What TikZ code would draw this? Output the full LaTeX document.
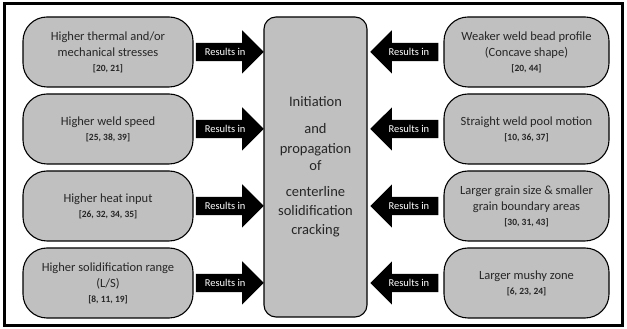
\documentclass[tikz,border=0pt]{standalone}
\usepackage{fontspec}
\setmainfont{Carlito}
\usetikzlibrary{shapes.arrows,positioning}
\definecolor{boxgray}{RGB}{192,192,192}
\definecolor{txtgray}{RGB}{38,38,38}
\newcommand{\rif}[1]{\\[-1pt]{\fontsize{9.5}{11}\selectfont\bfseries #1}}

\begin{document}
\begin{tikzpicture}
        [x=1pt,y=1pt,
         causa/.style={draw, line width=1.1pt, fill=boxgray, rounded corners=24pt,
                       minimum height=70pt, align=center, text=txtgray, inner sep=2pt,
                       font=\fontsize{12.5}{16}\selectfont},
         freccia/.style={single arrow, fill=black, text=white, anchor=tail,
                         minimum height=68pt, minimum width=43pt,
                         single arrow head extend=12.5pt, text height=7.5pt, text depth=0pt,
                         inner ysep=5.25pt, inner xsep=1pt, font=\fontsize{10.5}{10.5}\selectfont}]
        \useasboundingbox (0,0) rectangle (627,329);
        %cornice esterna
            \draw[line width=3pt] (4,3) rectangle (622,325);
            %blocco centrale
            \node[causa, minimum width=103pt, minimum height=300pt, rounded corners=12pt,
                  font=\fontsize{14.5}{19}\selectfont] (crack) at (315.5,162)
                 {Initiation\\[8pt]and\\[1pt]propagation\\[-2pt]of\\[7pt]centerline\\solidification\\cracking};
            %cause a sinistra
            \node[causa, minimum width=170pt] (l1) at (108,277) {Higher thermal and/or\\mechanical stresses\rif{[20, 21]}};
            \node[causa, minimum width=170pt] (l2) at (108,200) {Higher weld speed\rif{[25, 38, 39]}};
            \node[causa, minimum width=170pt] (l3) at (108,123) {Higher heat input\rif{[26, 32, 34, 35]}};
            \node[causa, minimum width=170pt] (l4) at (108,46) {Higher solidification range\\(L/S)\rif{[8, 11, 19]}};
            %cause a destra
            \node[causa, minimum width=165pt] (r1) at (526.5,277) {Weaker weld bead profile\\(Concave shape)\rif{[20, 44]}};
            \node[causa, minimum width=165pt] (r2) at (526.5,200) {Straight weld pool motion\rif{[10, 36, 37]}};
            \node[causa, minimum width=165pt] (r3) at (526.5,123) {Larger grain size \& smaller\\grain boundary areas\rif{[30, 31, 43]}};
            \node[causa, minimum width=165pt] (r4) at (526.5,46) {Larger mushy zone\rif{[6, 23, 24]}};
            %frecce
            \node[freccia] (a1) at ([xshift=2pt]l1.east) {Results in};
            \node[freccia] (a2) at ([xshift=2pt]l2.east) {Results in};
            \node[freccia] (a3) at ([xshift=2pt]l3.east) {Results in};
            \node[freccia] (a4) at ([xshift=2pt]l4.east) {Results in};
            \node[freccia, shape border rotate=180] (b1) at ([xshift=-5pt]r1.west) {Results in};
            \node[freccia, shape border rotate=180] (b2) at ([xshift=-5pt]r2.west) {Results in};
            \node[freccia, shape border rotate=180] (b3) at ([xshift=-5pt]r3.west) {Results in};
            \node[freccia, shape border rotate=180] (b4) at ([xshift=-5pt]r4.west) {Results in};
    \end{tikzpicture}
\end{document}
